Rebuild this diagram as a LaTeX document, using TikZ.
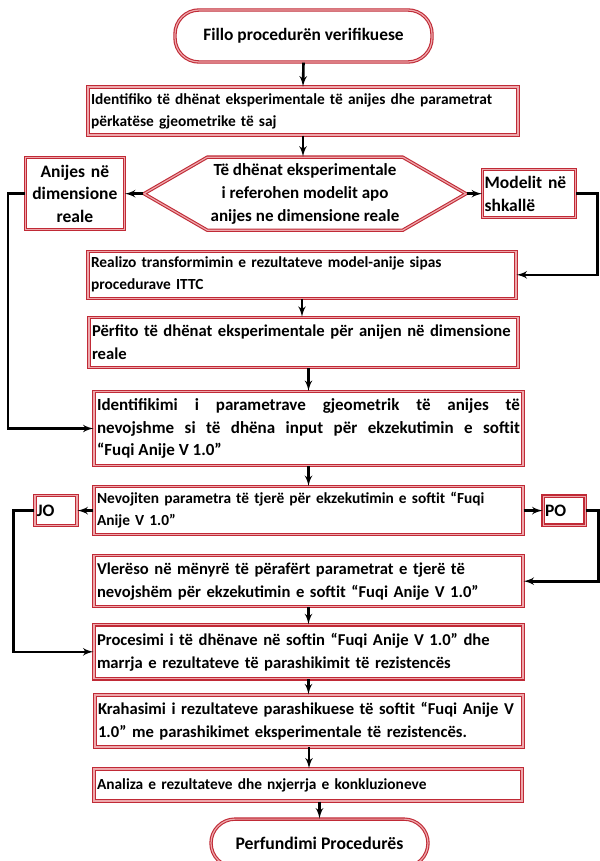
\documentclass[tikz,border=0pt]{standalone}
\usepackage{fontspec}
\setmainfont{Carlito}
\usetikzlibrary{arrows,shapes.symbols}
\definecolor{kufi}{RGB}{192,42,54}
\definecolor{mesi}{RGB}{238,168,172}
\tikzstyle{korniza}=[draw=kufi, double=mesi, double distance=1.2pt, line width=1.1pt, fill=white]
\tikzstyle{hapi}=[korniza, text width=423pt, inner xsep=3pt, inner ysep=1pt,
  align=left, anchor=north, font=\bfseries\fontsize{15.4}{22}\selectfont]
\tikzstyle{madh}=[font=\bfseries\fontsize{16.6}{23}\selectfont]
\tikzstyle{skaji}=[korniza, rounded corners=24pt, minimum width=257pt, minimum height=52pt,
  font=\bfseries\fontsize{17.4}{20}\selectfont]
\tikzstyle{pyetje}=[korniza, shape=signal, signal to=west and east, signal pointer angle=60,
  minimum width=322pt, minimum height=73pt, inner sep=1pt, align=center, anchor=north,
  font=\bfseries\fontsize{17}{23}\selectfont]
\tikzstyle{anesor}=[korniza, inner xsep=2pt, inner ysep=1pt, font=\bfseries\fontsize{17.5}{22.5}\selectfont]
\tikzstyle{line} = [draw, line width=2.6pt, color=black, -latex']
\newcommand{\hapi}[3]{node (h#1) [hapi,#2] {#3}}

\begin{document}
\begin{tikzpicture}[x=1pt,y=1pt]
\useasboundingbox (0,0) rectangle (599,-861);

% Draw diagram elements
\path (303.5,-36) node (t1) [skaji] {Fillo procedurën verifikuese};

\path (t1.south)+(-0.5,-24) \hapi{1}{minimum height=48pt, text width=424pt}{Identifiko të dhënat eksperimentale të anijes dhe parametrat\\
  përkatëse gjeometrike të saj};
\path (h1.south)+(2,-21) node (d1) [pyetje] {Të dhënat eksperimentale\\
  i referohen modelit apo\\ anijes ne dimensione reale};
\path (d1.west)+(-18,0) node (a1) [anesor, anchor=east, text width=95pt, minimum height=72pt,
  align=center] {Anijes në\\ dimensione\\ reale};
\path (d1.east)+(15,0) node (m1) [anesor, anchor=west, text width=89pt, minimum height=48pt,
  align=left] {Modelit në\\ shkallë};

\path (d1.south)+(-3,-20) \hapi{2}{minimum height=47pt, text width=422pt}{Realizo transformimin e rezultateve model-anije sipas\\
  procedurave ITTC};
\path (h2.south)+(1.5,-18) \hapi{3}{minimum height=50pt, madh}{Përfito të dhënat eksperimentale për anijen në dimensione\\
  reale};
\path (h3.south)+(5,-23) \hapi{4}{minimum height=74pt, align=justify,
  font=\bfseries\fontsize{17}{22.5}\selectfont}{Identifikimi i parametrave gjeometrik të anijes të\linebreak
  nevojshme si të dhëna input për ekzekutimin e softit\linebreak
  “Fuqi Anije V 1.0”};
\path (h4.south)+(0,-20) \hapi{5}{minimum height=48pt}{Nevojiten parametra të tjerë për ekzekutimin e softit “Fuqi\\
  Anije V 1.0”};
\path (h5.west)+(-16,0) node (jo) [anesor, anchor=east, text width=38pt, minimum height=30pt,
  align=left] {JO};
\path (h5.east)+(19,0) node (po) [anesor, anchor=west, text width=38pt, minimum height=29pt,
  align=left] {PO};

\path (h5.south)+(0,-20) \hapi{6}{minimum height=51pt, madh}{Vlerëso në mënyrë të përafërt parametrat e tjerë të\\
  nevojshëm për ekzekutimin e softit “Fuqi Anije V 1.0”};
\path (h6.south)+(0,-17) \hapi{7}{minimum height=54pt, madh}{Procesimi i të dhënave në softin “Fuqi Anije V 1.0” dhe\\
  marrja e rezultateve të parashikimit të rezistencës};
\path (h7.south)+(0.5,-15) \hapi{8}{minimum height=52pt, text width=422pt, madh}{Krahasimi i rezultateve parashikuese të softit “Fuqi Anije V\\
  1.0” me parashikimet eksperimentale të rezistencës.};
\path (h8.south)+(-1,-21) \hapi{9}{minimum height=32pt, text width=422pt}{Analiza e rezultateve dhe nxjerrja e konkluzioneve};
\path (h9.south)+(11.5,-17) node (t2) [skaji, anchor=north, minimum width=217pt, minimum height=48pt,
  font=\bfseries\fontsize{17.7}{20}\selectfont] {Perfundimi Procedurës};

% Draw arrows between elements
\path [line] (t1.south) -- (h1.north);
\path [line] (h1.south) -- (h1.south |- d1.north);
\path [line] (d1.west) -- (a1.east);
\path [line] (d1.east) -- (m1.west);
\path [line] (m1.east) -- ++(21,0) |- (h2.east);
\path [line] (a1.west) -- ++(-17,0) |- (h4.west);
\path [line] (h2.south) -- (h2.south |- h3.north);
\path [line] (h4.north |- h3.south) -- (h4.north);
\path [line] (h4.south) -- (h5.north);
\path [line] (h5.west) -- (jo.east);
\path [line] (h5.east) -- (po.west);
\path [line] (po.east) -- ++(13,0) |- (h6.east);
\path [line] (jo.west) -- ++(-21,0) |- (h7.west);
\path [line] (h6.south) -- (h7.north);
\path [line] (h7.south) -- (h7.south |- h8.north);
\path [line] (h8.south) -- (h8.south |- h9.north);
\path [line] (t2.north |- h9.south) -- (t2.north);

\end{tikzpicture}
\end{document}
